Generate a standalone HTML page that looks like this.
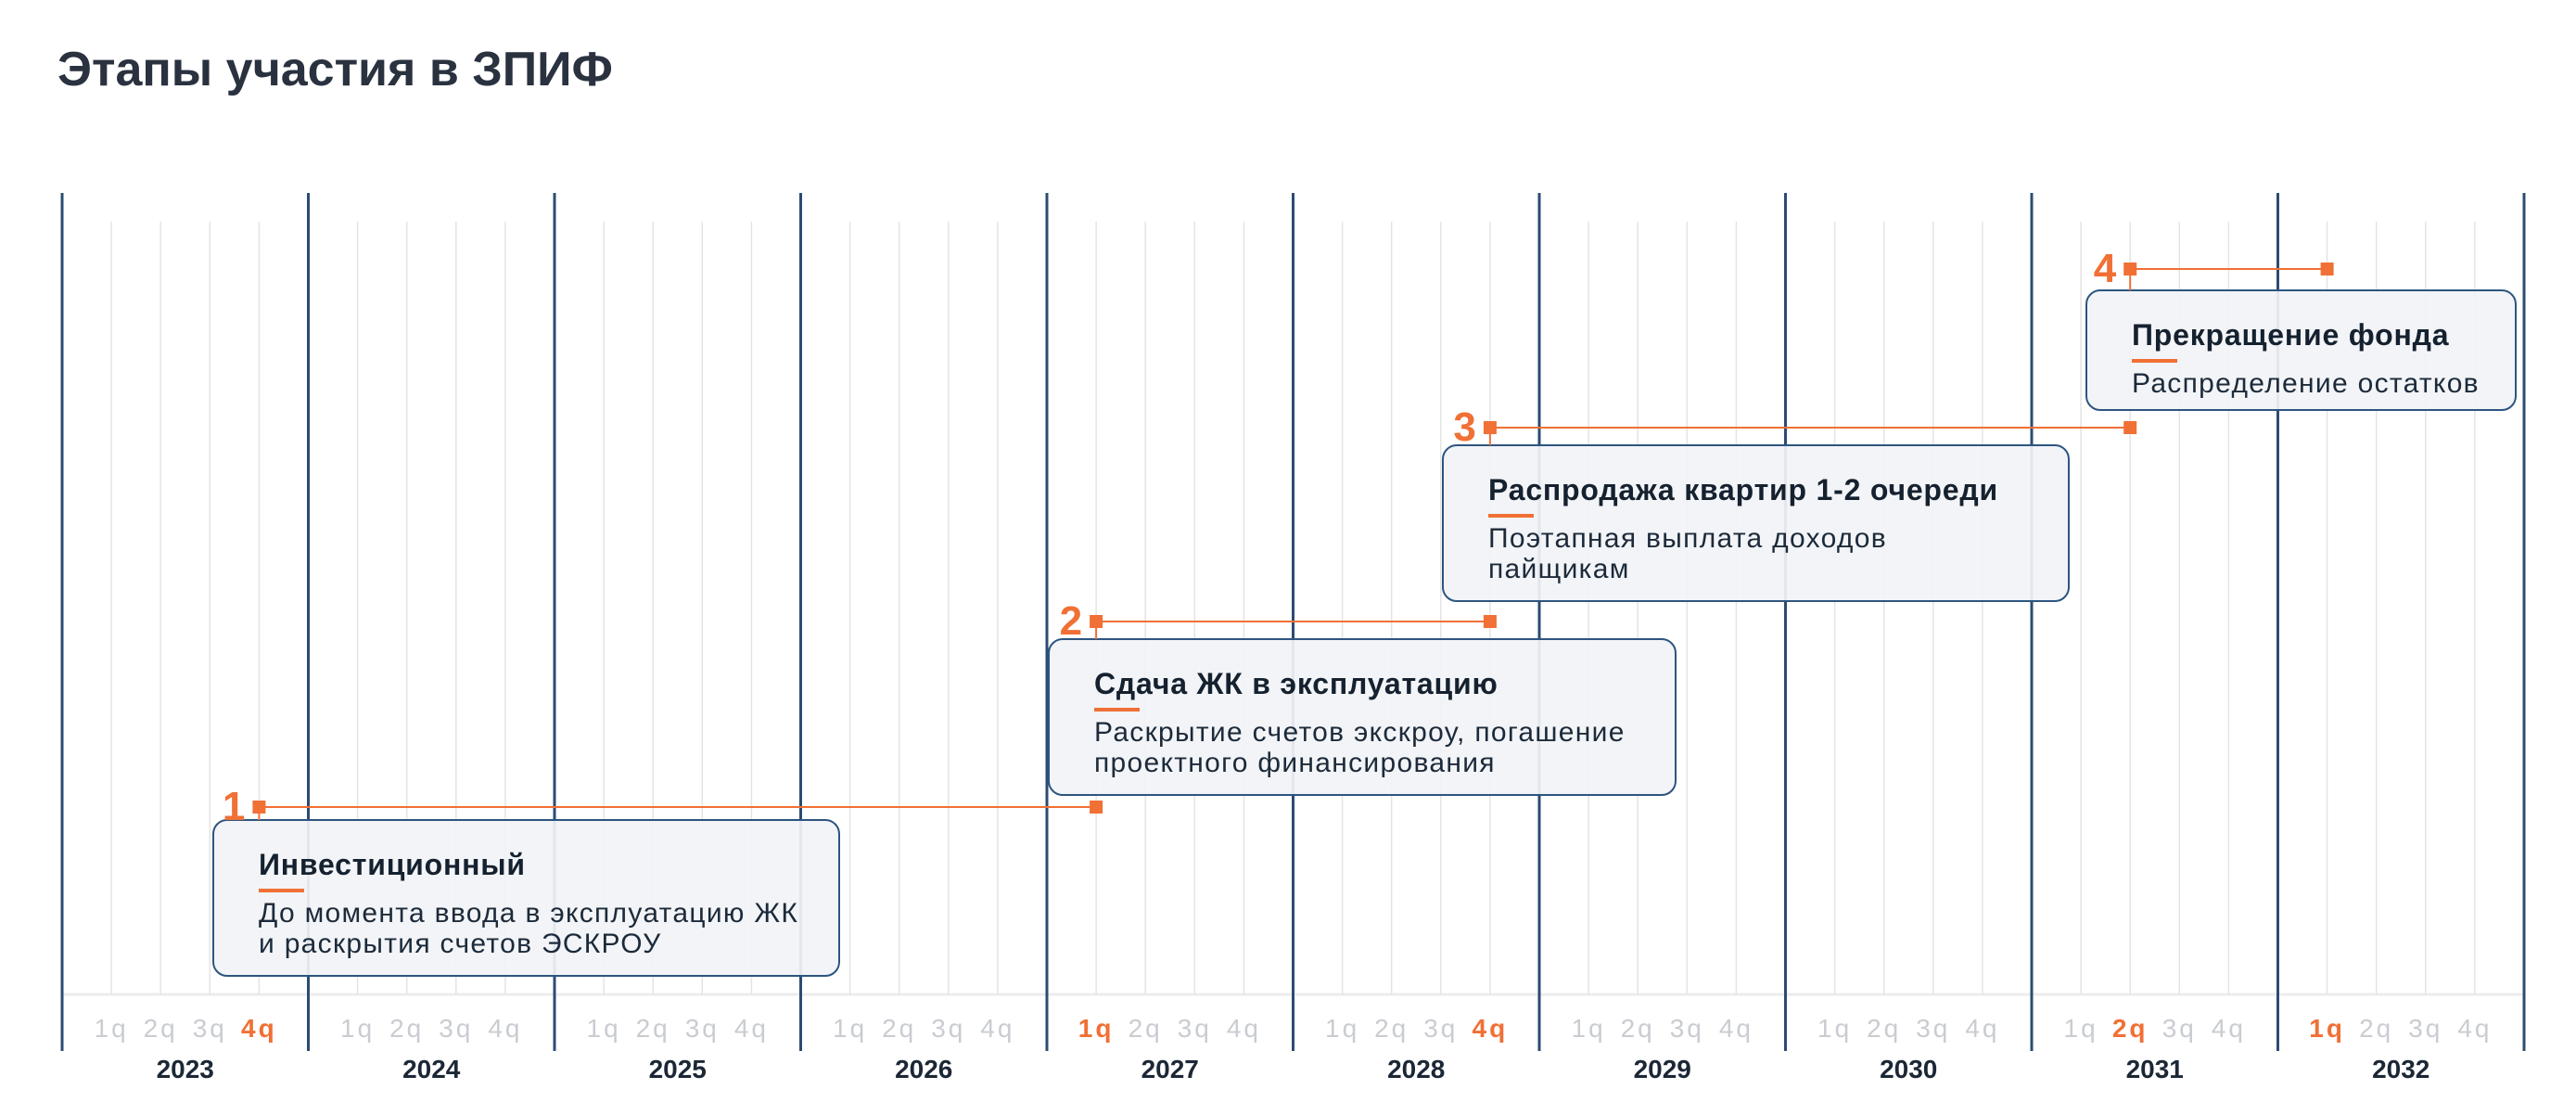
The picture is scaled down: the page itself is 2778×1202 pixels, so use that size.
<!DOCTYPE html>
<html><head><meta charset="utf-8"><style>
html,body{margin:0;padding:0;background:#fff;}
svg{display:block;font-family:"Liberation Sans","DejaVu Sans",sans-serif;}
</style></head><body>
<svg id="chart" width="2778" height="1202" viewBox="0 0 2778 1202" xmlns="http://www.w3.org/2000/svg">
<text x="62" y="92" font-size="52" font-weight="bold" fill="#2a3240">Этапы участия в ЗПИФ</text>
<g id="grid"></g><g id="axis"></g><g id="stages"></g>
</svg>
<script>
const years = [2023,2024,2025,2026,2027,2028,2029,2030,2031,2032];
const quarterLabels = ['1q','2q','3q','4q'];
const stageNumbers = ['1','2','3','4'];
const stageStartYear = [2023,2027,2028,2031];
const stageStartQ = [4,1,4,2];
const stageEndYear = [2027,2028,2031,2032];
const stageEndQ = [1,4,2,1];
const stageTitles = ['Инвестиционный','Сдача ЖК в эксплуатацию','Распродажа квартир 1-2 очереди','Прекращение фонда'];
const stageDesc = [['До момента ввода в эксплуатацию ЖК','и раскрытия счетов ЭСКРОУ'],['Раскрытие счетов экскроу, погашение','проектного финансирования'],['Поэтапная выплата доходов','пайщикам'],['Распределение остатков']];
const stageRow = [3,2,1,0];

const NS='http://www.w3.org/2000/svg';
const X0=67, YW=265.5;
function xYear(i){return X0+i*YW;}
function xQ(year,q){return X0+(year-years[0])*YW+q*YW/5;}
function rowY(r){return [290,461,670,870][r];}
function mk(tag,attrs,parent,text){const e=document.createElementNS(NS,tag);for(const k in attrs)e.setAttribute(k,attrs[k]);if(text!==undefined)e.textContent=text;parent.appendChild(e);return e;}
const grid=document.getElementById('grid'), axis=document.getElementById('axis'), st=document.getElementById('stages');
const hl={};
for(let i=0;i<stageNumbers.length;i++){hl[stageStartYear[i]+'-'+stageStartQ[i]]=1;hl[stageEndYear[i]+'-'+stageEndQ[i]]=1;}
mk('line',{x1:X0,x2:xYear(years.length),y1:1072,y2:1072,stroke:'#ececec','stroke-width':3},grid);
years.forEach((y,i)=>{
  for(let q=1;q<=4;q++){
    const l=mk('line',{x1:xQ(y,q),x2:xQ(y,q),y1:239,y2:1072,stroke:'#e4e4e4','stroke-width':1.5},grid);
    
    
    const on=hl[y+'-'+q];
    const t=mk('text',{x:xQ(y,q),y:1118,'text-anchor':'middle','font-size':28,fill:on?'#f07035':'#c9ccd1','font-weight':on?'bold':'normal','letter-spacing':3},axis,quarterLabels[q-1]);
    
    
  }
  const yt=mk('text',{x:xYear(i)+YW/2,y:1162,'text-anchor':'middle','font-size':28,'font-weight':'bold',fill:'#1c2736'},axis,String(y));
  
  
});
for(let i=0;i<=years.length;i++){
  const l=mk('line',{x1:xYear(i),x2:xYear(i),y1:208,y2:1133,stroke:'#2b4c73','stroke-width':3},grid);
  
  
}
const boxes=[[230,884,905,1052],[1131,689,1807,857],[1556,480,2231,648],[2250,313,2713,442]];
for(let i=0;i<stageNumbers.length;i++){
  const g=mk('g',{},st);
  
  
  const y=rowY(stageRow[i]);
  const xs=xQ(stageStartYear[i],stageStartQ[i]), xe=xQ(stageEndYear[i],stageEndQ[i]);
  const b=boxes[i];
  const r=mk('rect',{x:b[0],y:b[1],width:b[2]-b[0],height:b[3]-b[1],rx:15,fill:'rgba(241,243,246,0.93)',stroke:'#2d5580','stroke-width':2},g);
  
  
  mk('line',{x1:xs,x2:xe,y1:y,y2:y,stroke:'#f07035','stroke-width':2},g);
  mk('line',{x1:xs,x2:xs,y1:y,y2:b[1],stroke:'#f07035','stroke-width':2},g);
  const m1=mk('rect',{x:xs-7,y:y-7,width:14,height:14,fill:'#f07035'},g);
  
  
  const m2=mk('rect',{x:xe-7,y:y-7,width:14,height:14,fill:'#f07035'},g);
  
  
  const n=mk('text',{x:xs-15,y:y+14,'text-anchor':'end','font-size':44,'font-weight':'bold',fill:'#f07035'},g,stageNumbers[i]);
  
  
  const tx=b[0]+49;
  const tt=mk('text',{x:tx,y:b[1]+59,'font-size':32,'font-weight':'bold',fill:'#15212f','letter-spacing':0.8},g,stageTitles[i]);
  
  
  mk('rect',{x:tx,y:b[1]+74,width:49,height:4,fill:'#f07035'},g);
  stageDesc[i].forEach((s,j)=>{
    const d=mk('text',{x:tx,y:b[1]+110+j*33,'font-size':30,fill:'#1c2a3a','letter-spacing':1.3},g,s);
    
    
  });
}
</script>
</body></html>
